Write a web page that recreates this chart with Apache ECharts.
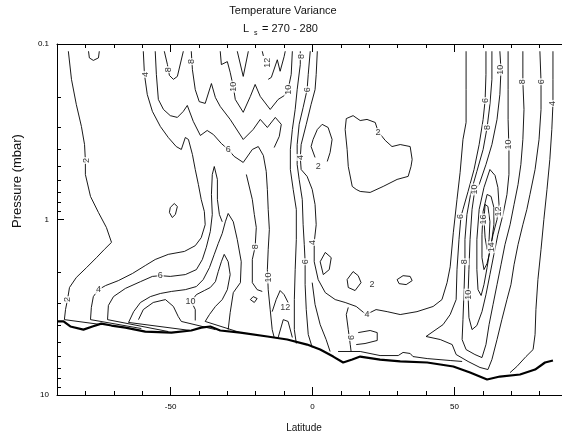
<!DOCTYPE html>
<html><head><meta charset="utf-8">
<script src="https://cdn.jsdelivr.net/npm/echarts/dist/echarts.min.js"></script>
<style>html,body{margin:0;padding:0;background:#fff}#c{width:562px;height:434px}</style>
</head><body><div id="c"></div>
<script>
// ---- axis ticks ----
const xMajor = [-50, 0, 50];
const yMinor = [0.2,0.3,0.4,0.5,0.6,0.7,0.8,0.9,2,3,4,5,6,7,8,9];
const titleText = 'Temperature Variance';
const subL = 'L', subS = 's', subRest = '= 270 - 280';
const xName = 'Latitude', yName = 'Pressure (mbar)';

// ---- contour lines: [latitude, pressure (mbar)] ----
const c2West = [[-86.0,0.110],[-84.9,0.159],[-83.2,0.221],[-81.4,0.295],[-80.3,0.374],[-80.0,0.461],[-80.0,0.554],[-78.2,0.739],[-75.4,0.912],[-72.6,1.11],[-70.8,1.35],[-73.3,1.48],[-76.1,1.65],[-79.6,1.88],[-83.2,2.14],[-85.6,2.44],[-86.3,2.86],[-87.0,3.26],[-87.4,3.72],[-74.4,3.97]];
const cTopU = [[-78.9,0.110],[-78.6,0.120],[-77.2,0.124],[-75.4,0.120],[-75.1,0.110]];
const c4West = [[-59.6,0.110],[-59.2,0.149],[-58.2,0.194],[-56.4,0.242],[-53.6,0.295],[-50.8,0.341],[-48.0,0.384],[-46.2,0.399],[-44.8,0.341],[-43.7,0.350],[-42.3,0.426],[-41.3,0.519],[-40.2,0.632],[-39.2,0.769],[-38.1,0.900],[-37.8,1.07],[-39.2,1.27],[-41.3,1.41],[-45.1,1.52],[-50.8,1.58],[-55.4,1.69],[-58.9,1.83],[-63.4,2.03],[-68.4,2.23],[-72.9,2.38],[-75.4,2.51],[-77.2,2.75],[-77.9,3.17],[-78.2,3.72],[-60.3,4.18]];
const c6Upper = [[-55.4,0.110],[-55.0,0.149],[-54.3,0.207],[-52.5,0.236],[-50.1,0.256],[-47.6,0.262],[-45.5,0.242],[-44.1,0.224],[-42.0,0.276],[-39.5,0.332],[-37.1,0.311],[-34.9,0.328],[-32.1,0.369],[-29.7,0.399],[-27.6,0.437],[-24.4,0.473],[-21.2,0.399],[-19.1,0.384],[-17.3,0.432],[-16.3,0.532],[-15.9,0.674],[-15.6,0.877],[-15.2,1.14],[-15.6,1.48],[-15.9,1.93],[-15.6,2.51],[-14.9,3.26],[-14.2,4.24],[-13.5,4.70]];
const c6Lower = [[-50.8,4.35],[-72.2,3.72],[-71.9,3.09],[-70.1,2.75],[-65.9,2.47],[-60.6,2.26],[-56.4,2.11],[-53.6,2.09],[-50.1,2.11],[-44.8,2.06],[-40.9,1.93],[-38.8,1.69],[-37.4,1.44],[-36.0,1.17],[-35.3,0.936],[-35.6,0.720],[-35.3,0.554],[-34.6,0.499],[-33.5,0.591],[-33.5,0.769],[-32.8,0.936],[-31.8,1.03]];
const c8Lower = [[-43.0,4.29],[-64.8,3.86],[-63.0,3.35],[-60.6,2.97],[-57.1,2.75],[-53.6,2.64],[-49.7,2.57],[-44.8,2.51],[-40.9,2.41],[-38.5,2.20],[-36.3,1.88],[-34.6,1.58],[-33.2,1.37],[-31.8,1.20],[-30.7,1.03],[-29.7,0.924],[-27.9,1.03],[-26.5,1.30],[-25.1,1.74],[-25.4,2.29],[-27.9,2.61],[-29.0,3.39],[-29.7,4.24]];
const c10Bump = [[-61.3,3.72],[-59.6,3.26],[-56.1,2.97],[-51.8,2.86],[-49.0,3.13],[-47.3,3.57],[-46.2,3.81],[-34.2,4.24]];
const c10West = [[-41.3,3.76],[-41.3,3.26],[-42.7,2.93],[-40.9,2.68],[-38.1,2.54],[-36.0,2.44],[-34.2,2.26],[-33.2,1.98],[-32.1,1.74],[-31.1,1.58],[-29.7,1.74],[-29.0,2.06],[-30.0,2.51],[-31.8,2.86],[-34.2,3.13],[-36.3,3.48],[-37.8,3.81],[-25.4,4.41]];
const c8Zig = [[-42.7,0.110],[-42.3,0.140],[-41.3,0.182],[-39.9,0.213],[-37.8,0.218],[-35.6,0.168],[-34.2,0.202],[-32.5,0.227],[-29.0,0.269],[-24.4,0.350],[-20.9,0.307],[-18.4,0.269],[-15.9,0.299],[-13.1,0.262],[-11.0,0.287],[-11.7,0.336],[-13.5,0.389]];
const c10Zig = [[-32.5,0.110],[-32.1,0.131],[-30.0,0.126],[-29.0,0.145],[-27.9,0.175],[-27.2,0.207],[-24.4,0.245],[-21.9,0.199],[-20.2,0.170],[-18.4,0.199],[-14.9,0.236],[-12.1,0.207],[-10.0,0.197],[-8.6,0.182],[-7.5,0.149],[-7.1,0.110]];
const c12V = [[-26.5,0.110],[-24.4,0.153],[-22.6,0.110]];
const c12W = [[-15.6,0.159],[-14.5,0.155],[-12.4,0.123],[-11.4,0.143],[-10.0,0.118],[-9.6,0.110]];
const c12Stub = [[-17.7,0.110],[-17.3,0.117]];
const c8Bundle = [[-4.3,0.110],[-4.3,0.131],[-5.4,0.182],[-6.1,0.236],[-7.1,0.307],[-7.8,0.399],[-7.8,0.519],[-6.8,0.674],[-5.7,0.877],[-5.7,1.30],[-6.1,1.93],[-6.4,2.86],[-6.4,4.24],[-5.7,5.09]];
const c6Bundle = [[-0.8,0.110],[-1.5,0.149],[-1.9,0.182],[-3.3,0.230],[-4.7,0.287],[-5.4,0.374],[-5.4,0.486],[-4.7,0.591],[-3.6,0.769],[-3.3,1.07],[-2.9,1.39],[-2.6,1.74],[-2.6,2.35],[-2.2,3.26],[-1.5,4.52],[-0.1,5.36]];
const c4Big = [[1.7,0.110],[1.3,0.149],[0.9,0.182],[-0.5,0.221],[-2.2,0.287],[-4.0,0.374],[-4.3,0.443],[-4.0,0.519],[-1.9,0.568],[-0.1,0.674],[0.9,0.821],[1.3,1.07],[0.6,1.35],[0.6,1.74],[2.0,2.20],[4.5,2.61],[8.0,2.86],[11.5,2.97],[15.4,3.13],[18.9,3.48],[22.4,3.26],[26.3,3.35],[30.9,3.48],[36.8,3.35],[42.5,3.13],[45.6,2.86],[47.4,2.29],[48.5,1.86],[49.6,1.19],[50.9,0.769],[52.0,0.539],[53.0,0.350],[54.1,0.280],[54.1,0.182],[54.1,0.110]];
const c2Small = [[0.9,0.443],[-0.5,0.384],[0.2,0.350],[1.7,0.307],[3.4,0.287],[5.5,0.299],[6.9,0.350],[6.2,0.415],[5.2,0.467]];
const c2Big = [[11.9,0.266],[14.3,0.256],[16.8,0.273],[19.2,0.269],[22.1,0.280],[23.1,0.315],[25.6,0.354],[28.0,0.384],[30.9,0.374],[34.4,0.384],[35.1,0.455],[34.7,0.499],[33.7,0.568],[29.8,0.591],[24.9,0.648],[20.3,0.701],[16.8,0.692],[15.4,0.674],[14.0,0.648],[12.6,0.499],[12.2,0.399],[11.5,0.307],[11.9,0.266]];
const c2Diamond = [[12.2,2.20],[14.3,1.98],[16.1,2.09],[17.1,2.29],[15.0,2.54],[12.6,2.44],[12.2,2.20]];
const c2Oval = [[29.8,2.20],[31.9,2.09],[34.4,2.11],[35.1,2.23],[33.0,2.35],[30.5,2.32],[29.8,2.20]];
const cTri = [[2.7,1.74],[4.5,1.54],[6.6,1.65],[5.9,1.93],[3.8,2.06],[2.7,1.74]];
const cTongue = [[16.1,4.41],[20.3,4.29],[22.8,4.41],[22.8,4.89],[18.5,5.09],[15.4,5.16]];
const cSurface = [[9.0,5.65],[16.8,5.65],[23.8,5.96],[30.2,5.96],[31.9,5.72],[34.4,5.80],[35.4,6.04],[40.4,6.20],[48.5,6.36],[52.7,6.44]];
const c6Mid = [[12.6,3.17],[11.9,3.48],[12.6,4.24],[13.3,5.16],[13.6,5.65]];
const cNearEq = [[-0.1,2.29],[0.9,3.05],[2.7,3.97],[4.8,4.83],[6.2,5.65]];
const cTent = [[-12.1,4.70],[-10.3,3.72],[-8.6,3.81],[-7.1,4.70]];
const c12Cap = [[-14.2,3.35],[-12.8,2.86],[-11.4,2.54],[-10.0,2.68],[-8.6,2.97]];
const c8Mid = [[-23.3,0.554],[-21.2,0.769],[-20.5,0.936],[-19.8,1.11],[-20.2,1.43],[-21.2,1.69],[-21.2,2.29],[-19.5,2.51],[-17.7,2.57]];
const cBlob = [[-21.9,2.86],[-20.9,2.75],[-19.5,2.82],[-20.5,2.97],[-21.9,2.86]];
const cLens = [[-50.1,0.854],[-48.7,0.811],[-47.6,0.843],[-48.3,0.936],[-49.4,0.974],[-50.4,0.912],[-50.1,0.854]];
const c8Top = [[-52.2,0.110],[-51.1,0.131],[-50.4,0.151],[-49.0,0.159],[-47.6,0.153],[-45.5,0.110]];
// northern high-latitude system
const r4East = [[84.7,0.110],[84.7,0.159],[84.7,0.218],[84.3,0.307],[83.6,0.455],[82.6,0.674],[81.5,1.00],[80.5,1.48],[79.4,2.20],[78.7,3.26],[78.4,4.52],[77.7,5.51],[75.2,6.04],[72.0,6.88],[69.6,7.45]];
const r6 = [[61.1,0.110],[61.1,0.149],[60.8,0.210],[60.1,0.269],[58.7,0.374],[56.9,0.519],[54.8,0.692],[53.0,0.877],[52.3,0.961],[51.6,1.30],[50.9,1.93],[50.6,2.86],[48.5,3.48],[46.0,3.97],[40.0,4.64],[45.0,4.83],[49.2,5.16],[50.6,5.88],[54.8,6.44],[59.0,6.97],[61.8,7.16],[63.2,6.28],[65.0,4.83],[66.7,3.72],[68.5,2.86],[69.9,2.35],[71.0,1.81],[72.4,1.39],[74.1,1.07],[75.5,0.877],[76.6,0.720],[78.4,0.519],[79.8,0.350],[80.5,0.236],[80.5,0.164],[80.1,0.110]];
const r8 = [[63.2,0.110],[63.2,0.159],[62.5,0.221],[61.5,0.299],[60.1,0.399],[57.9,0.532],[55.8,0.701],[54.4,0.936],[53.7,1.30],[53.7,1.74],[53.4,2.51],[53.0,3.72],[52.7,4.83],[54.1,5.51],[57.2,5.88],[59.7,6.12],[61.1,5.16],[62.2,3.97],[63.6,3.05],[65.0,2.35],[66.4,1.81],[67.8,1.39],[69.6,1.07],[71.0,0.821],[72.4,0.632],[73.4,0.486],[74.1,0.350],[74.5,0.236],[74.1,0.164],[74.1,0.110]];
const r10 = [[66.0,0.110],[66.4,0.140],[66.0,0.194],[65.0,0.269],[63.2,0.374],[61.1,0.486],[58.7,0.632],[57.2,0.674],[56.2,0.877],[55.5,1.30],[55.1,1.93],[54.8,2.68],[55.1,3.62],[56.2,4.24],[57.9,4.02],[59.7,3.35],[61.1,2.68],[62.5,2.06],[63.9,1.58],[65.3,1.22],[67.1,0.936],[68.5,0.720],[69.2,0.554],[69.2,0.399],[68.9,0.269],[68.9,0.182],[68.9,0.110]];
const r12 = [[62.5,0.519],[60.4,0.657],[58.7,0.877],[57.9,1.30],[57.9,1.93],[58.3,2.51],[59.4,2.71],[60.4,2.35],[61.5,1.88],[62.5,1.48],[63.6,1.22],[65.0,1.00],[65.7,0.821],[65.3,0.657],[64.3,0.561],[62.5,0.519]];
const r14 = [[61.5,0.720],[60.1,0.900],[59.7,1.22],[59.7,1.65],[60.4,1.93],[61.5,1.78],[62.5,1.52],[63.2,1.30],[63.9,1.07],[63.9,0.854],[62.9,0.739],[61.5,0.720]];
const r16 = [[60.8,0.821],[60.4,1.00],[60.8,1.27],[61.5,1.48],[62.2,1.30],[62.5,1.03],[61.8,0.843],[60.8,0.821]];
// surface (bottom boundary)
const topo = [[-90,3.81],[-87.7,3.81],[-85.3,4.07],[-80.7,4.24],[-77.5,4.07],[-74.4,3.92],[-70.8,4.02],[-65.9,4.13],[-58.9,4.35],[-49.7,4.41],[-42.7,4.29],[-39.2,4.13],[-36.0,4.07],[-32.5,4.29],[-25.4,4.41],[-15.9,4.64],[-8.9,4.83],[-1.9,5.16],[2.7,5.51],[7.3,6.04],[10.8,6.53],[14.0,6.28],[16.8,6.04],[23.8,6.28],[30.9,6.44],[40.4,6.53],[49.6,6.88],[55.5,7.45],[61.5,8.16],[66.0,7.85],[73.1,7.64],[78.4,7.16],[81.9,6.53],[84.7,6.36]];

// contour labels [lat, pressure, text]
const labelsV = [[-79.6,0.461,'2'],[-86.3,2.86,'2'],[-58.9,0.149,'4'],[-50.7,0.140,'8'],[-42.7,0.126,'8'],[-27.9,0.175,'10'],[-15.9,0.128,'12'],[-8.6,0.182,'10'],[-4.0,0.118,'8'],[-1.9,0.182,'6'],[-4.3,0.443,'4'],[-20.2,1.43,'8'],[-15.6,2.14,'10'],[-0.1,1.35,'4'],[-2.6,1.74,'6'],[13.9,4.70,'6'],
  [60.8,0.210,'6'],[61.5,0.299,'8'],[66.4,0.140,'10'],[74.1,0.164,'8'],[80.5,0.164,'6'],[84.7,0.218,'4'],[69.2,0.374,'10'],[57.2,0.674,'10'],[52.3,0.961,'6'],[60.4,1.00,'16'],[65.7,0.900,'12'],[62.9,1.44,'14'],[53.7,1.74,'8'],[54.8,2.68,'10']];
const labelsH = [[-29.7,0.399,'6'],[2.0,0.499,'2'],[23.1,0.319,'2'],[-75.4,2.51,'4'],[-53.6,2.09,'6'],[-43.0,2.93,'10'],[-9.6,3.17,'12'],[21.0,2.35,'2'],[19.2,3.48,'4']];

const contours = [c2West,cTopU,c4West,c6Upper,c6Lower,c8Lower,c10Bump,c10West,c8Zig,c10Zig,c12V,c12W,c12Stub,c8Bundle,c6Bundle,c4Big,c2Small,c2Big,c2Diamond,c2Oval,cTri,cTongue,cSurface,c6Mid,cNearEq,cTent,c12Cap,c8Mid,cBlob,cLens,c8Top,r4East,r6,r8,r10,r12,r14,r16];

const FONT = '"Liberation Sans", Arial, Helvetica, sans-serif';
const chart = echarts.init(document.getElementById('c'), null, {renderer:'canvas'});

const series = contours.map(d => ({
  type:'line', data:d, symbol:'none', showSymbol:false, silent:true, animation:false,
  lineStyle:{color:'#000', width:0.9}, z:2, xAxisIndex:0, yAxisIndex:0
}));
series.push({type:'line', data:topo, symbol:'none', showSymbol:false, silent:true, animation:false,
  lineStyle:{color:'#000', width:2.2}, z:3, xAxisIndex:0, yAxisIndex:0});
function labelSeries(arr, rot){
  return {type:'scatter', xAxisIndex:0, yAxisIndex:0, silent:true, animation:false, z:10,
    symbolSize:1, itemStyle:{color:'rgba(0,0,0,0)'},
    data: arr.map(l => ({value:[l[0], l[1]], name:l[2]})),
    label:{show:true, position:'inside', formatter: p => p.name, rotate:rot, fontSize:9,
      color:'#000', fontFamily:FONT, backgroundColor:'#fff', padding:[0,1]}};
}
series.push(labelSeries(labelsV, 90));
series.push(labelSeries(labelsH, 0));

const tickStyle = {color:'#000', width:1};
chart.setOption({
  animation:false,
  backgroundColor:'#fff',
  grid:{left:57, top:44, width:511, height:351, containLabel:false, outerBoundsMode:'none'},
  xAxis:[
    {type:'value', min:-90, max:90, interval:10, position:'bottom',
      axisLine:{show:true, onZero:false, lineStyle:tickStyle},
      axisTick:{show:true, inside:true, length:4, lineStyle:tickStyle},
      axisLabel:{formatter: v => (v % 50 === 0 ? String(v) : ''), fontSize:8, color:'#000', margin:8, fontFamily:FONT},
      splitLine:{show:false}},
    {type:'value', min:-90, max:90, position:'bottom',
      axisLine:{show:false, onZero:false}, axisLabel:{show:false}, splitLine:{show:false},
      axisTick:{show:true, inside:true, length:8, customValues:xMajor, lineStyle:tickStyle}},
    {type:'value', min:-90, max:90, interval:10, position:'top',
      axisLine:{show:true, onZero:false, lineStyle:tickStyle},
      axisTick:{show:true, inside:true, length:4, lineStyle:tickStyle},
      axisLabel:{show:false}, splitLine:{show:false}},
    {type:'value', min:-90, max:90, position:'top',
      axisLine:{show:false, onZero:false}, axisLabel:{show:false}, splitLine:{show:false},
      axisTick:{show:true, inside:true, length:8, customValues:xMajor, lineStyle:tickStyle}}
  ],
  yAxis:[
    {type:'log', logBase:10, min:0.1, max:10, inverse:true, position:'left',
      axisLine:{show:true, onZero:false, lineStyle:tickStyle},
      axisTick:{show:true, inside:true, length:7, lineStyle:tickStyle},
      axisLabel:{fontSize:8, color:'#000', margin:8, fontFamily:FONT},
      splitLine:{show:false}},
    {type:'log', logBase:10, min:0.1, max:10, inverse:true, position:'left',
      axisLine:{show:false, onZero:false}, axisLabel:{show:false}, splitLine:{show:false},
      axisTick:{show:true, inside:true, length:4, customValues:yMinor, lineStyle:tickStyle}}
  ],
  graphic:[
    {type:'text', x:283, y:11, style:{text:titleText, fontSize:11, fontFamily:FONT, fill:'#111', align:'center', verticalAlign:'middle'}},
    {type:'text', x:243, y:29, style:{text:subL, fontSize:11, fontFamily:FONT, fill:'#111', align:'left', verticalAlign:'middle'}},
    {type:'text', x:254, y:33, style:{text:subS, fontSize:7, fontFamily:FONT, fill:'#111', align:'left', verticalAlign:'middle'}},
    {type:'text', x:262, y:29, style:{text:subRest, fontSize:11, fontFamily:FONT, fill:'#111', align:'left', verticalAlign:'middle'}},
    {type:'text', x:17, y:181, rotation:Math.PI/2, style:{text:yName, fontSize:13, fontFamily:FONT, fill:'#111', align:'center', verticalAlign:'middle'}},
    {type:'text', x:304, y:428, style:{text:xName, fontSize:10, fontFamily:FONT, fill:'#111', align:'center', verticalAlign:'middle'}}
  ],
  series: series
});
</script></body></html>
